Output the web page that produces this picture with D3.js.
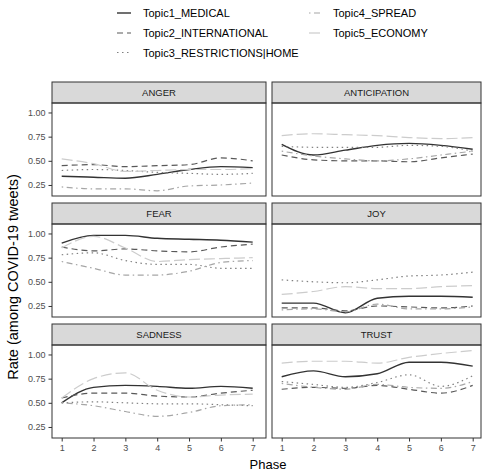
<!DOCTYPE html>
<html>
<head>
<meta charset="utf-8">
<script src="https://cdn.jsdelivr.net/npm/d3@7"></script>
<style>
    body { margin: 0; background: #fff; }
    svg { display: block; font-family: "Liberation Sans", Arial, sans-serif; }
</style>
</head>
<body>
<svg id="chart" width="482" height="471"></svg>
<script>
var phases = [1, 2, 3, 4, 5, 6, 7];
var topics = ["Topic1_MEDICAL", "Topic2_INTERNATIONAL", "Topic3_RESTRICTIONS|HOME", "Topic4_SPREAD", "Topic5_ECONOMY"];
var emotions = ["ANGER", "ANTICIPATION", "FEAR", "JOY", "SADNESS", "TRUST"];
var yTicks = [0.25, 0.50, 0.75, 1.00];

// one row per topic, one value per phase
var anger = [
    [0.34, 0.33, 0.32, 0.36, 0.41, 0.44, 0.43],
    [0.45, 0.46, 0.44, 0.45, 0.46, 0.53, 0.50],
    [0.40, 0.41, 0.40, 0.38, 0.37, 0.36, 0.37],
    [0.23, 0.21, 0.21, 0.19, 0.24, 0.25, 0.27],
    [0.52, 0.47, 0.39, 0.40, 0.41, 0.41, 0.42]
];
var anticipation = [
    [0.67, 0.56, 0.61, 0.66, 0.68, 0.66, 0.62],
    [0.56, 0.51, 0.50, 0.50, 0.49, 0.53, 0.57],
    [0.65, 0.64, 0.64, 0.64, 0.66, 0.65, 0.60],
    [0.60, 0.55, 0.52, 0.50, 0.52, 0.56, 0.60],
    [0.76, 0.78, 0.77, 0.76, 0.74, 0.73, 0.74]
];
var fear = [
    [0.90, 0.98, 0.98, 0.95, 0.94, 0.93, 0.91],
    [0.86, 0.82, 0.84, 0.82, 0.81, 0.86, 0.89],
    [0.78, 0.80, 0.72, 0.68, 0.68, 0.64, 0.64],
    [0.71, 0.64, 0.57, 0.57, 0.61, 0.70, 0.72],
    [0.85, 0.97, 0.85, 0.71, 0.73, 0.74, 0.75]
];
var joy = [
    [0.28, 0.28, 0.18, 0.33, 0.35, 0.35, 0.34],
    [0.23, 0.23, 0.20, 0.25, 0.24, 0.23, 0.25],
    [0.52, 0.50, 0.49, 0.52, 0.56, 0.57, 0.60],
    [0.21, 0.22, 0.19, 0.27, 0.22, 0.22, 0.24],
    [0.37, 0.40, 0.45, 0.43, 0.43, 0.45, 0.46]
];
var sadness = [
    [0.50, 0.66, 0.68, 0.67, 0.65, 0.67, 0.65],
    [0.55, 0.60, 0.60, 0.57, 0.56, 0.60, 0.63],
    [0.50, 0.51, 0.50, 0.49, 0.49, 0.48, 0.47],
    [0.50, 0.47, 0.41, 0.36, 0.40, 0.47, 0.48],
    [0.55, 0.75, 0.81, 0.63, 0.56, 0.58, 0.59]
];
var trust = [
    [0.77, 0.83, 0.77, 0.80, 0.92, 0.92, 0.88],
    [0.64, 0.66, 0.65, 0.68, 0.64, 0.60, 0.68],
    [0.72, 0.69, 0.66, 0.71, 0.79, 0.67, 0.78],
    [0.70, 0.66, 0.64, 0.69, 0.66, 0.65, 0.72],
    [0.91, 0.93, 0.93, 0.91, 0.97, 1.01, 1.04]
];
var panelData = [anger, anticipation, fear, joy, sadness, trust];

var lineColors = ["#333333", "#595959", "#808080", "#a6a6a6", "#cccccc"];
var lineDashes = [null, "6,4", "1.5,3.5", "1.5,3.5,6,3.5", "11,4"];

// layout of the 2 x 3 facet grid
var colLeft = [52, 272];
var colWidth = [214, 209];
var rowTop = [82, 203, 324];
var stripH = 21;
var panelH = 93;

var svg = d3.select("#chart");

var y = d3.scaleLinear().domain([0.136, 1.098]).range([panelH, 0]);
var line = d3.line().curve(d3.curveMonotoneX);

emotions.forEach(function(emo, i) {
    var col = i % 2, row = Math.floor(i / 2);
    var w = colWidth[col];
    var x = d3.scaleLinear().domain([1, 7]).range([9.7, 200.7]);

    var g = svg.append("g")
        .attr("transform", "translate(" + colLeft[col] + "," + (rowTop[row] + stripH) + ")");

    // strip
    g.append("rect")
        .attr("x", 0).attr("y", -stripH)
        .attr("width", w).attr("height", stripH)
        .attr("fill", "#d9d9d9")
        .attr("stroke", "#333333").attr("stroke-width", 1);
    g.append("text")
        .attr("x", w / 2).attr("y", -stripH / 2 + 3.5)
        .attr("text-anchor", "middle")
        .attr("font-size", 9.5)
        .attr("fill", "#1a1a1a")
        .text(emo);

    // lines
    line.x(function(d, k) { return x(phases[k]); })
        .y(function(d) { return y(d); });
    g.selectAll("path.topic")
        .data(panelData[i])
        .enter()
        .append("path")
        .attr("class", "topic")
        .attr("d", line)
        .attr("fill", "none")
        .attr("stroke", function(d, k) { return lineColors[k]; })
        .attr("stroke-width", function(d, k) { return k === 0 ? 1.4 : 1.2; })
        .attr("stroke-dasharray", function(d, k) { return lineDashes[k]; });

    // panel border
    g.append("rect")
        .attr("width", w).attr("height", panelH)
        .attr("fill", "none")
        .attr("stroke", "#333333").attr("stroke-width", 1);

    if (col === 0) {
        var ya = g.append("g")
            .call(d3.axisLeft(y).tickValues(yTicks).tickFormat(d3.format(".2f")).tickSize(3.5).tickPadding(3));
        ya.select(".domain").remove();
        ya.selectAll("line").attr("stroke", "#333333");
        ya.selectAll("text").attr("font-size", 9).attr("fill", "#4d4d4d")
            .attr("font-family", "Liberation Sans, Arial, sans-serif");
    }
    if (row === 2) {
        var xa = g.append("g")
            .attr("transform", "translate(0," + panelH + ")")
            .call(d3.axisBottom(x).tickValues(phases).tickFormat(d3.format("d")).tickSize(3.5).tickPadding(3));
        xa.select(".domain").remove();
        xa.selectAll("line").attr("stroke", "#333333");
        xa.selectAll("text").attr("font-size", 9).attr("fill", "#4d4d4d")
            .attr("font-family", "Liberation Sans, Arial, sans-serif");
    }
});

// axis titles
svg.append("text")
    .attr("x", 268).attr("y", 469)
    .attr("text-anchor", "middle")
    .attr("font-size", 13)
    .text("Phase");
svg.append("text")
    .attr("transform", "translate(18,277) rotate(-90)")
    .attr("text-anchor", "middle")
    .attr("font-size", 14.5)
    .text("Rate (among COVID-19 tweets)");

// legend, two columns
var legX = [117, 309];
var legY = [13, 33, 52.5];
var leg = svg.selectAll("g.leg")
    .data(topics)
    .enter()
    .append("g")
    .attr("class", "leg")
    .attr("transform", function(d, k) {
        var c = k < 3 ? 0 : 1, r = k < 3 ? k : k - 3;
        return "translate(" + legX[c] + "," + legY[r] + ")";
    });
leg.append("line")
    .attr("x1", 0).attr("x2", 14)
    .attr("stroke", function(d, k) { return lineColors[k]; })
    .attr("stroke-width", function(d, k) { return k === 0 ? 1.4 : 1.2; })
    .attr("stroke-dasharray", function(d, k) { return lineDashes[k]; });
leg.append("text")
    .attr("x", function(d, k) { return k < 3 ? 26 : 24; })
    .attr("y", 4)
    .attr("font-size", 11)
    .text(function(d) { return d; });
</script>
</body>
</html>
